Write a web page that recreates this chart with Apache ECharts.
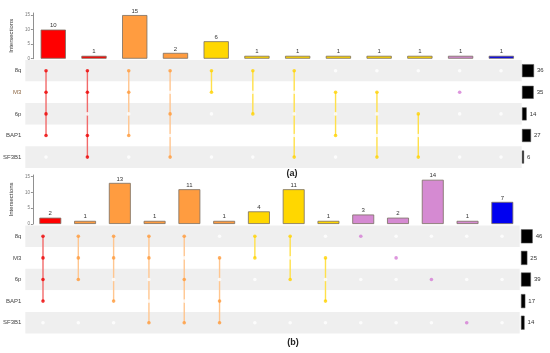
<!DOCTYPE html>
<html>
<head>
<meta charset="utf-8">
<script src="https://cdn.jsdelivr.net/npm/echarts@6/dist/echarts.min.js"></script>
<style>html,body{margin:0;padding:0;background:#fff}#c{width:550px;height:353px}</style>
</head>
<body>
<div id="c"></div>
<script>
// ---------- data ----------
const rows = ['8q', 'M3', '6p', 'BAP1', 'SF3B1'];

// panel (a)
const aCounts = [10, 1, 15, 2, 6, 1, 1, 1, 1, 1, 1, 1];
const aGroups = ['red', 'red', 'orange', 'orange', 'yellow', 'yellow', 'yellow', 'yellow', 'yellow', 'yellow', 'violet', 'blue'];
const aSets = [[0,1,2,3], [0,1,3,4], [0,1,3], [0,2,4], [0,1], [0,2], [0,4], [1,3], [1,4], [2,4], [1], []];
const aSetSizes = [36, 35, 14, 27, 6];

// panel (b)
const bCounts = [2, 1, 13, 1, 11, 1, 4, 11, 1, 3, 2, 14, 1, 7];
const bGroups = ['red', 'orange', 'orange', 'orange', 'orange', 'orange', 'yellow', 'yellow', 'yellow', 'violet', 'violet', 'violet', 'violet', 'blue'];
const bSets = [[0,1,2,3], [0,1,2], [0,1,3], [0,1,4], [0,2,4], [1,3,4], [0,1], [0,2], [1,3], [0], [1], [2], [4], []];
const bSetSizes = [46, 25, 39, 17, 14];

const yTicks = [0, 5, 10, 15];

// ---------- styles ----------
const FONT = 'Liberation Sans';
const barFill = { red: '#FF0000', orange: '#FF9C40', yellow: '#FFD700', violet: '#D58AD2', blue: '#0000F0' };
const dotFill = { red: '#EE0000', orange: '#FF9A3A', yellow: '#FFD200', violet: '#D47CD4', blue: '#0000F0' };
const lineFill = { red: '#F26A6A', orange: '#FFC690', yellow: '#FFE04A', violet: '#E2A8E0', blue: '#6666FF' };

const panels = [
  { counts: aCounts, groups: aGroups, sets: aSets, sizes: aSetSizes,
    bar: { left: 25.3, top: 13, width: 496.4, height: 45.7, max: 15.7 },
    mat: { left: 25.3, top: 59.9, width: 496.4, height: 108 },
    ss:  { left: 522, top: 59.9, width: 20, height: 108, max: 60 },
    barW: '62%', ssBarH: 13, m3Color: '#8a6440' },
  { counts: bCounts, groups: bGroups, sets: bSets, sizes: bSetSizes,
    bar: { left: 23.3, top: 175, width: 496.4, height: 49, max: 15.5 },
    mat: { left: 23.3, top: 225.5, width: 496.4, height: 108 },
    ss:  { left: 521, top: 225.5, width: 20, height: 108, max: 78.7 },
    barW: '63%', ssBarH: 14, m3Color: '#444' }
];

const grid = [], xAxis = [], yAxis = [], series = [];

panels.forEach((p, pi) => {
  const cols = p.counts.map((_, i) => String(i));
  const g0 = grid.length;
  grid.push({ left: p.bar.left, top: p.bar.top, width: p.bar.width, height: p.bar.height });
  grid.push({ left: p.mat.left, top: p.mat.top, width: p.mat.width, height: p.mat.height });
  grid.push({ left: p.ss.left, top: p.ss.top, width: p.ss.width, height: p.ss.height });

  // bar chart axes
  xAxis.push({ gridIndex: g0, type: 'category', data: cols, show: false });
  yAxis.push({ gridIndex: g0, type: 'value', min: 0, max: p.bar.max,
    name: 'Intersections', nameLocation: 'middle', nameRotate: 90, nameGap: 11,
    nameTextStyle: { fontSize: 6, color: '#333', fontFamily: FONT },
    axisLine: { show: true, lineStyle: { color: '#444', width: 0.6 } },
    axisTick: { show: true, length: 2, customValues: yTicks, lineStyle: { color: '#444', width: 0.6 } },
    axisLabel: { customValues: yTicks, fontSize: 4.5, color: '#777', margin: 3, fontFamily: FONT },
    splitLine: { show: false } });

  // matrix axes
  xAxis.push({ gridIndex: g0 + 1, type: 'category', data: cols, show: false });
  yAxis.push({ gridIndex: g0 + 1, type: 'category', data: rows, inverse: true,
    axisLine: { show: false }, axisTick: { show: false },
    splitArea: { show: true, areaStyle: { color: ['#EFEFEF', '#FFFFFF'] } },
    axisLabel: { fontSize: 6, color: '#444', margin: 4, fontFamily: FONT,
      formatter: v => v === 'M3' ? '{m|M3}' : v,
      rich: { m: { fontSize: 6, color: p.m3Color, fontFamily: FONT } } } });

  // set-size axes
  xAxis.push({ gridIndex: g0 + 2, type: 'value', min: 0, max: p.ss.max, show: false });
  yAxis.push({ gridIndex: g0 + 2, type: 'category', data: rows, inverse: true, show: false });

  // intersection bars
  series.push({ type: 'bar', xAxisIndex: g0, yAxisIndex: g0, barWidth: p.barW,
    data: p.counts.map((v, i) => ({ value: v, itemStyle: { color: barFill[p.groups[i]] } })),
    itemStyle: { borderColor: '#7a6e62', borderWidth: 0.8 },
    label: { show: true, position: 'top', distance: 1, fontSize: 6, color: '#333', fontFamily: FONT },
    silent: true, animation: false });

  // connecting lines
  const segs = [];
  p.sets.forEach((s, i) => {
    if (s.length > 1) segs.push({ value: [i, Math.min(...s), Math.max(...s)], grp: p.groups[i] });
  });
  series.push({ type: 'custom', xAxisIndex: g0 + 1, yAxisIndex: g0 + 1,
    encode: { x: 0, y: [1, 2] },
    data: segs.map(s => s.value),
    renderItem: (params, api) => {
      const a = api.coord([api.value(0), api.value(1)]);
      const b = api.coord([api.value(0), api.value(2)]);
      return { type: 'line', shape: { x1: a[0], y1: a[1], x2: b[0], y2: b[1] },
        style: { stroke: lineFill[segs[params.dataIndex].grp], lineWidth: 1.4 } };
    }, silent: true, animation: false, z: 2 });

  // dots
  const dots = [];
  p.sets.forEach((s, i) => {
    rows.forEach((r, ri) => {
      const on = s.includes(ri);
      dots.push({ value: [i, ri], itemStyle: { color: on ? dotFill[p.groups[i]] : '#FFFFFF' } });
    });
  });
  series.push({ type: 'scatter', xAxisIndex: g0 + 1, yAxisIndex: g0 + 1, symbolSize: 3.6,
    data: dots, silent: true, animation: false, z: 3 });

  // set sizes
  series.push({ type: 'bar', xAxisIndex: g0 + 2, yAxisIndex: g0 + 2, barWidth: p.ssBarH,
    data: p.sizes, itemStyle: { color: '#000', borderColor: '#555', borderWidth: 0.5 },
    label: { show: true, position: 'right', distance: 3, fontSize: 6, color: '#333', fontFamily: FONT },
    silent: true, animation: false });
});

const chart = echarts.init(document.getElementById('c'), null, { renderer: 'canvas' });
chart.setOption({
  animation: false,
  textStyle: { fontFamily: FONT },
  grid, xAxis, yAxis, series,
  graphic: [
    { type: 'text', x: 292, y: 173.5, style: { text: '(a)', fontSize: 9, fontWeight: 'bold', fill: '#222', align: 'center', verticalAlign: 'middle', fontFamily: FONT } },
    { type: 'text', x: 293, y: 342.5, style: { text: '(b)', fontSize: 9, fontWeight: 'bold', fill: '#222', align: 'center', verticalAlign: 'middle', fontFamily: FONT } }
  ]
});
</script>
</body>
</html>
